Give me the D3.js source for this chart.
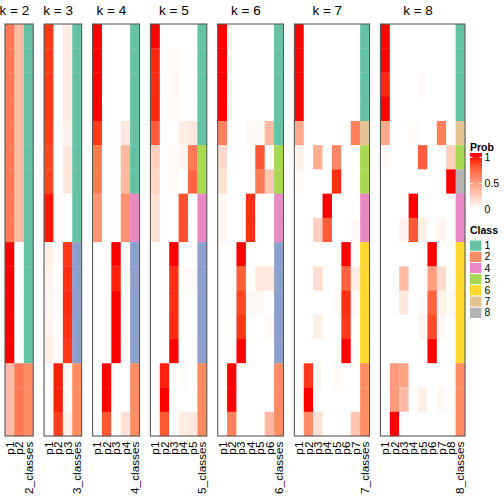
<!DOCTYPE html>
<html><head><meta charset="utf-8">
<script src="https://cdn.jsdelivr.net/npm/d3@7"></script>
<style>body{margin:0;background:#fff}svg{display:block}text{font-family:"Liberation Sans",Arial,sans-serif}</style>
</head><body>
<svg id="chart" width="504" height="504"></svg>
<script>
const ks = [2,3,4,5,6,7,8];
const classColors = {1:"#66C2A5",2:"#FC8D62",3:"#8DA0CB",4:"#E78AC3",5:"#A6D854",6:"#FFD92F",7:"#E5C494",8:"#B3B3B3"};
const legendClasses = [1,2,4,5,6,7,8];
const probTicks = [0,0.5,1];

const classK2 = [1,1,1,1,1,1,1,1,1,1,1,1,1,1,2,2,2];
const classK3 = [1,1,1,1,1,1,1,1,1,3,3,3,3,3,2,2,2];
const classK4 = [1,1,1,1,1,1,1,4,4,3,3,3,3,3,2,2,2];
const classK5 = [1,1,1,1,1,5,5,4,4,3,3,3,3,3,2,2,2];
const classK6 = [1,1,1,1,1,5,5,4,4,3,3,3,3,3,2,2,2];
const classK7 = [1,1,1,1,7,5,5,4,4,6,6,6,6,6,2,2,2];
const classK8 = [1,1,1,1,7,5,8,4,4,6,6,6,6,6,2,2,2];

const probK2 = [
 [0.67,0.36],[0.67,0.36],[0.67,0.36],[0.67,0.36],[0.67,0.36],[0.67,0.36],[0.67,0.36],[0.67,0.36],[0.67,0.36],
 [1,0],[1,0],[1,0],[1,0],[1,0],
 [0.36,0.67],[0.36,0.67],[0.36,0.67]];
const probK3 = [
 [0.92,0,0.1],[0.92,0,0.1],[0.92,0,0.1],[0.92,0,0.1],[0.91,0,0.07],[0.88,0,0.13],[0.88,0,0.13],
 [0.98,0.02,0],[0.98,0.02,0],
 [0.08,0,0.92],[0.06,0,0.94],[0.04,0,0.95],[0.06,0,0.94],[0.08,0,0.92],
 [0,0.97,0.02],[0,0.97,0.02],[0,0.9,0.07]];
const probK4 = [
 [1,0,0,0],[1,0,0,0],[1,0,0,0],[1,0,0,0],[0.92,0,0,0.12],[0.68,0,0,0.37],[0.68,0,0,0.37],
 [0.54,0,0,0.57],[0.54,0,0,0.57],
 [0,0,1,0],[0,0,0.97,0.02],[0,0,1,0],[0,0,1,0],[0,0,1,0],
 [0,1,0,0],[0,1,0,0],[0,0.82,0,0.16]];
const probK5 = [
 [1,0,0,0,0],[0.96,0,0.03,0,0],[0.95,0,0.04,0,0],[0.96,0,0.03,0,0],[0.8,0,0,0.1,0.12],
 [0.26,0,0.03,0.05,0.68],[0.22,0,0.03,0,0.76],
 [0.16,0,0,0.84,0],[0.16,0,0,0.84,0],
 [0,0,1,0,0],[0,0,0.94,0.02,0.03],[0,0,0.94,0,0.02],[0,0,0.95,0,0.02],[0,0,1,0,0],
 [0,0.97,0,0.02,0],[0,1,0,0,0],[0,0.82,0,0.1,0.12]];
const probK6 = [
 [1,0,0,0,0,0],[1,0,0,0,0,0],[1,0,0,0,0,0],[1,0,0,0,0,0],[0.65,0,0,0.04,0.03,0.37],
 [0.2,0,0,0,0.82,0],[0.16,0,0,0,0.68,0.3],
 [0.04,0,0,0.94,0,0],[0.04,0,0,0.94,0,0],
 [0,0,1,0,0,0],[0,0,0.8,0,0.12,0.12],[0,0,0.88,0.04,0.04,0],[0,0,0.93,0,0,0.03],[0,0,1,0,0,0],
 [0,1,0,0,0,0],[0,1,0,0,0,0],[0,0.65,0,0,0,0.37]];
const probK7 = [
 [1,0,0,0,0,0,0],[1,0,0,0,0,0,0],[1,0,0,0,0,0,0],[1,0,0,0,0,0,0],[0.45,0,0,0,0,0,0.65],
 [0.07,0,0.42,0,0.62,0,0],[0.03,0,0,0,0.94,0,0],
 [0,0,0,1,0,0,0],[0,0,0.25,0.8,0,0,0.03],
 [0,0,0,0,0,1,0],[0,0,0.18,0,0,0.78,0.1],[0,0,0,0,0.03,0.94,0.02],[0,0,0.08,0,0,0.92,0],[0,0,0,0,0,1,0],
 [0,0.92,0.04,0,0.03,0,0],[0,1,0,0,0,0,0],[0,0.6,0.16,0,0,0,0.3]];
const probK8 = [
 [1,0,0,0,0,0,0,0],[1,0,0,0,0,0,0,0],[0.96,0,0,0,0.03,0,0,0],[1,0,0,0,0,0,0,0],[0.46,0,0,0.02,0,0,0.65,0],
 [0.04,0,0,0,0.8,0,0,0.25],[0,0,0,0,0,0,0,1],
 [0,0,0,1,0,0,0,0],[0,0,0.06,0.82,0.08,0,0.05,0],
 [0,0,0,0,0,1,0,0],[0,0,0.36,0,0,0.5,0.2,0],[0,0,0.12,0,0.02,0.78,0.08,0.03],[0,0,0,0,0.05,0.86,0.04,0],[0,0,0,0,0,1,0,0],
 [0,0.52,0.48,0,0,0,0,0],[0,0.52,0.36,0,0.08,0,0.04,0],[0,1,0,0,0,0,0,0]];

const probs = [probK2,probK3,probK4,probK5,probK6,probK7,probK8];
const classes = [classK2,classK3,classK4,classK5,classK6,classK7,classK8];

const svg = d3.select("#chart");
const color = d3.scaleLinear().domain([0,1]).range(["#FFFFFF","#FF0000"]).interpolate(d3.interpolateLab);
const nRows = 17;
const y = d3.scaleBand().domain(d3.range(nRows)).range([24,436]);
const cw = 9.4, gap = 10.87, x0 = 5;

let xStart = x0;
ks.forEach((k,pi)=>{
  const cols = d3.range(1,k+1).map(i=>"p"+i).concat([k+"_classes"]);
  const x = d3.scaleBand().domain(cols).range([xStart, xStart + cols.length*cw]);
  const g = svg.append("g");
  const P = probs[pi], C = classes[pi];
  P.forEach((row,r)=>{
    row.forEach((v,j)=>{
      g.append("rect").attr("x",x(cols[j])).attr("y",y(r)).attr("width",x.bandwidth()+0.3).attr("height",y.bandwidth()+0.3)
        .attr("fill",color(v));
    });
    g.append("rect").attr("x",x(cols[k])).attr("y",y(r)).attr("width",x.bandwidth()).attr("height",y.bandwidth()+0.3)
      .attr("fill",classColors[C[r]]);
  });
  g.append("rect").attr("x",xStart).attr("y",24).attr("width",cols.length*cw).attr("height",412)
    .attr("fill","none").attr("stroke","#5a5a5a").attr("stroke-width",1.1);
  // title centered over prob columns
  const tc = (x("p1") + x("p"+k) + x.bandwidth())/2;
  g.append("text").attr("x",tc).attr("y",15).attr("text-anchor","middle").attr("font-size",13.5).text("k = "+k);
  cols.forEach(c=>{
    const cx = x(c)+x.bandwidth()/2;
    g.append("text").attr("transform",`translate(${cx},441.5) rotate(-90)`).attr("text-anchor","end")
      .attr("dy","0.35em").attr("font-size",11.8).text(c);
  });
  xStart += cols.length*cw + gap;
});

// Prob legend
const lg = svg.append("g");
lg.append("text").attr("x",470).attr("y",150.5).attr("font-size",10.5).attr("font-weight","bold").text("Prob");
const ly = d3.scaleLinear().domain([0,1]).range([209.5,157.3]);
const defs = svg.append("defs");
const grad = defs.append("linearGradient").attr("id","pg").attr("x1",0).attr("y1",1).attr("x2",0).attr("y2",0);
const barTop = 153, barBot = 213;
d3.range(0,1.0001,0.05).forEach(t=>{
  const val = ly.invert(barBot - t*(barBot-barTop));
  grad.append("stop").attr("offset",t).attr("stop-color",color(Math.max(0,Math.min(1,val))));
});
lg.append("rect").attr("x",470).attr("y",barTop).attr("width",12).attr("height",barBot-barTop).attr("fill","url(#pg)");
probTicks.forEach(v=>{
  lg.append("line").attr("x1",470).attr("x2",472.5).attr("y1",ly(v)).attr("y2",ly(v)).attr("stroke","#fff").attr("stroke-width",1);
  lg.append("line").attr("x1",479.5).attr("x2",482).attr("y1",ly(v)).attr("y2",ly(v)).attr("stroke","#fff").attr("stroke-width",1);
  lg.append("text").attr("x",484.5).attr("y",ly(v)).attr("dy","0.35em").attr("font-size",10.5).text(v===0.5?"0.5":String(v));
});
// Class legend
lg.append("text").attr("x",470).attr("y",234).attr("font-size",10.5).attr("font-weight","bold").text("Class");
const cy = d3.scaleBand().domain(legendClasses).range([240,318.4]);
legendClasses.forEach(c=>{
  lg.append("rect").attr("x",470).attr("y",cy(c)+0.5).attr("width",11.5).attr("height",cy.bandwidth()-1).attr("fill",classColors[c]);
  lg.append("text").attr("x",484.5).attr("y",cy(c)+cy.bandwidth()/2).attr("dy","0.35em").attr("font-size",10.5).text(c);
});
</script>
</body></html>
